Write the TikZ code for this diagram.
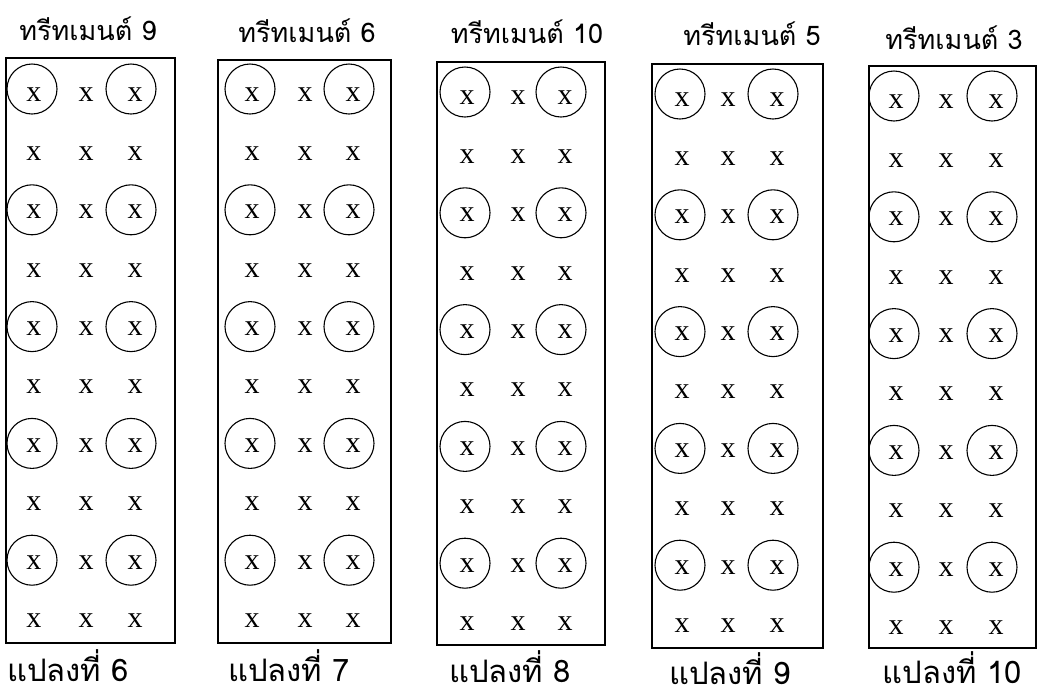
\documentclass[tikz,border=0pt]{standalone}
\usepackage{fontspec}
\setmainfont{Liberation Serif}
\newfontfamily\thaifont[Script=Thai]{Loma}
\begin{document}
\begin{tikzpicture}[x=1pt,y=-1pt,
  xmark/.style={inner sep=0pt, font=\fontsize{30}{30}\selectfont},
  plotbox/.style={draw, line width=1.3pt},
  ring/.style={draw, line width=1.1pt},
  thai/.style={font=\thaifont\fontsize{27}{27}\selectfont, anchor=base, inner sep=0pt},
  thaib/.style={font=\thaifont\fontsize{31}{31}\selectfont, anchor=base, inner sep=0pt}]
\useasboundingbox (0,0) rectangle (1039,697);
\foreach \i/\L/\R/\T/\B/\ca/\cb/\cc/\ry/\tx/\ty/\tn/\bx/\by/\bn in {
1/6/175/58/643/34/86/135/95/88/40/9/68/681/6,
2/218/391/60/643/252/305/353/95/307/42/6/289/681/7,
3/437/605/62/645/467/518/565/98/527/43/10/510/682/8,
4/652/823/64/648/682/728/777/100/752/45/5/730/684/9,
5/869/1036/66/648/896/946/996/102/954/49/3/952/683/10}{
  \draw[plotbox] (\L,\T) rectangle (\R,\B);
  \node[thai] (t\i) at (\tx,\ty) {ทรีทเมนต์ \tn};
  \node[thaib] (b\i) at (\bx,\by) {แปลงที่ \bn};
  \foreach \r in {1,...,10}{
    \pgfmathsetmacro\yy{\ry+(\r-1)*58.4}
    \node[xmark] (p\i-\r-1) at (\ca,\yy) {x};
    \node[xmark] (p\i-\r-2) at (\cb,\yy) {x};
    \node[xmark] (p\i-\r-3) at (\cc,\yy) {x};
  }
  \foreach \r in {1,3,5,7,9}{
    \pgfmathsetmacro\dy{\r==1 ? -6 : -2}
    \draw[ring] ([shift={(-2,\dy)}]p\i-\r-1.center) circle[radius=25pt];
    \draw[ring] ([shift={(-4,\dy)}]p\i-\r-3.center) circle[radius=25pt];
  }
}
\end{tikzpicture}
\end{document}
